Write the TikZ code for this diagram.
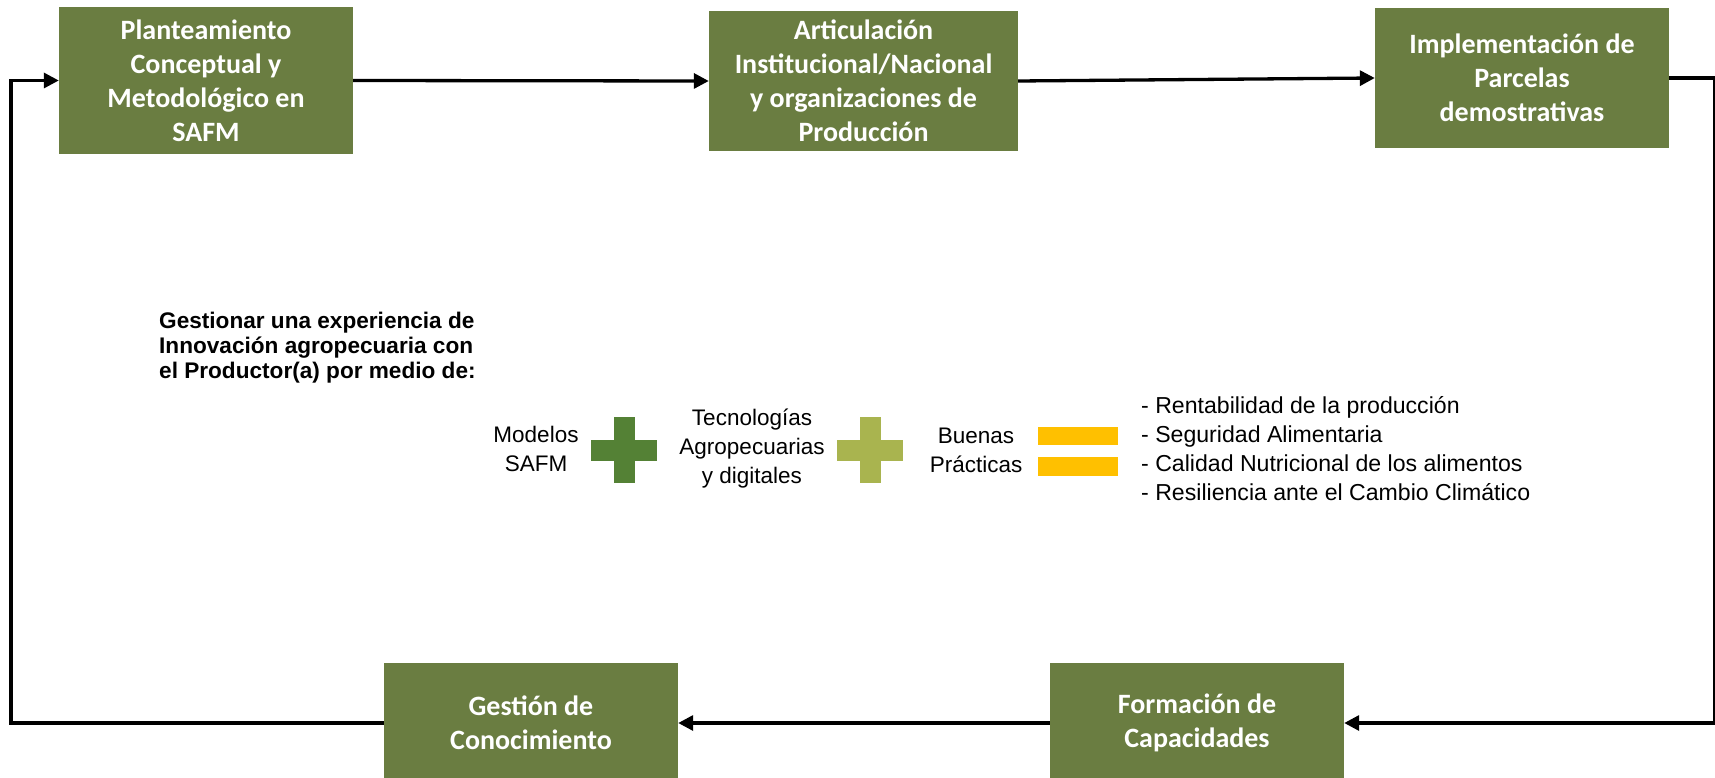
\documentclass[tikz,border=0pt]{standalone}
\usepackage{fontspec}
\setmainfont{Liberation Sans}
\newfontfamily\boxfont{Carlito}
\usetikzlibrary{arrows.meta}
\definecolor{boxgreen}{RGB}{106,125,65}
\definecolor{plusdark}{RGB}{84,129,53}
\definecolor{pluslight}{RGB}{169,180,79}
\definecolor{eqyellow}{RGB}{255,192,0}
\begin{document}
\begin{tikzpicture}[x=1pt,y=-1pt,
  stepbox/.style={fill=boxgreen, text=white, font=\boxfont\bfseries\fontsize{28}{34}\selectfont, align=center, inner sep=0pt, minimum width=294pt},
  conn/.style={line width=3.3pt, -{Triangle[length=15pt,width=15pt]}},
  lbl/.style={font=\fontsize{22.5}{29}\selectfont, align=center, inner sep=0pt},
]
\useasboundingbox (0,0) rectangle (1715,778);
% boxes
\node[stepbox, minimum height=147pt] (b1) at (206,80.5) {Planteamiento\\Conceptual y\\Metodológico en\\SAFM};
\node[stepbox, minimum width=309pt, minimum height=140pt] (b2) at (863.5,81) {Articulación\\Institucional/Nacional\\y organizaciones de\\Producción};
\node[stepbox, minimum height=140pt] (b3) at (1522,78) {Implementación de\\Parcelas\\demostrativas};
\node[stepbox, minimum height=120pt] (b4) at (531,723) {Gestión de\\Conocimiento};
\node[stepbox, minimum height=120pt] (b5) at (1197,723) {Formación de\\Capacidades};
% corner coordinates
\coordinate (L) at (11,0);
\coordinate (R) at (1715,0);
% connectors
\draw[conn] (b1.east) -- (b2.west);
\draw[conn] (b2.east) -- (b3.west);
\draw[conn] (b3.east) -- (b3.east -| R) |- (b5.east);
\draw[conn] (b5.west) -- (b4.east);
\draw[conn] (b4.west) -- (b4.west -| L) |- (b1.west);
% middle
\node[font=\bfseries\fontsize{22.6}{25}\selectfont, align=left, anchor=west, inner sep=0pt] (intro) at (159,348) {Gestionar una experiencia de\\Innovación agropecuaria con\\el Productor(a) por medio de:};
\node[lbl] (mod) at (536,449) {Modelos\\SAFM};
\node[lbl] (tec) at (752,449) {Tecnologías\\Agropecuarias\\y digitales};
\node[lbl] (bp) at (976,450) {Buenas\\Prácticas};
\node[lbl, font=\fontsize{23.1}{29}\selectfont, align=left, anchor=west] (res) at (1141,449) {- Rentabilidad de la producción\\- Seguridad Alimentaria\\- Calidad Nutricional de los alimentos\\- Resiliencia ante el Cambio Climático};
% plus signs
\fill[plusdark] (591,439.5) rectangle (657,460.5);
\fill[plusdark] (613.5,417) rectangle (634.5,483);
\fill[pluslight] (837,439.5) rectangle (903,460.5);
\fill[pluslight] (859.5,417) rectangle (880.5,483);
% equals
\fill[eqyellow] (1038,427) rectangle (1118,445);
\fill[eqyellow] (1038,457) rectangle (1118,476);
\end{tikzpicture}
\end{document}
